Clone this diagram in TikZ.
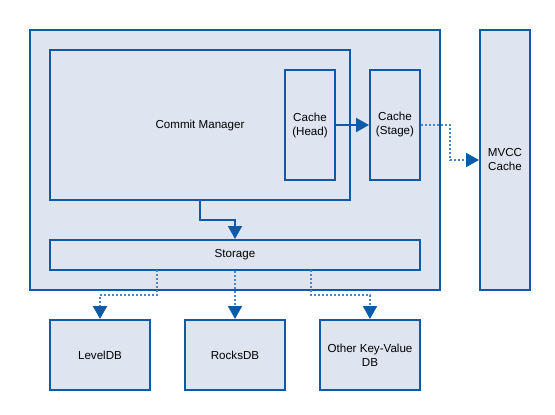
\documentclass[tikz,border=0pt]{standalone}
\usepackage{fontspec}
\setmainfont{Liberation Sans}
\usetikzlibrary{arrows.meta}
\definecolor{bstroke}{HTML}{0E5AA7}
\definecolor{bfill}{HTML}{DEE5F0}
\definecolor{dotc}{HTML}{4A86C5}
\begin{document}
\begin{tikzpicture}[x=1pt,y=-1pt,
  box/.style={draw=bstroke,fill=bfill,line width=2pt,align=center,inner sep=0pt,
    font=\fontsize{11.6}{14}\selectfont},
  solidarrow/.style={draw=bstroke,line width=2pt,-{Triangle[width=14pt,length=13pt]}},
  dotarrow/.style={draw=dotc,line width=2pt,dash pattern=on 2pt off 2pt,
    -{Triangle[width=14pt,length=13pt,fill=bstroke,color=bstroke]}}]
\useasboundingbox (0,0) rectangle (555,415);
\node[box,minimum width=410pt,minimum height=260pt] (outer) at (235,160) {};
\node[box,minimum width=300pt,minimum height=150pt] (cm) at (200,125) {Commit Manager};
\node[box,minimum width=50pt,minimum height=110pt] (head) at (310,125) {Cache\\(Head)};
\node[box,minimum width=50pt,minimum height=110pt] (stage) at (395,125) {Cache\\(Stage)};
\node[box,minimum width=50pt,minimum height=260pt] (mvcc) at (505,160) {MVCC\\Cache};
\node[box,minimum width=370pt,minimum height=30pt] (storage) at (235,255) {Storage};
\node[box,minimum width=100pt,minimum height=70pt] (level) at (100,355) {LevelDB};
\node[box,minimum width=100pt,minimum height=70pt] (rocks) at (235,355) {RocksDB};
\node[box,minimum width=100pt,minimum height=70pt] (other) at (370,355) {Other Key-Value\\DB};
\coordinate (s1) at (157,270);
\coordinate (s3) at (311,270);
\draw[solidarrow] (200,200) |- (235,220) -- (storage.north);
\draw[solidarrow] (head.east) -- (stage.west);
\draw[dotarrow] (stage.east) -- (450,125) |- (mvcc.west|-0,160);
\draw[dotarrow] (s1) |- (100,295) -- (level.north);
\draw[dotarrow] (storage.south) -- (rocks.north);
\draw[dotarrow] (s3) |- (370,295) -- (other.north);
\end{tikzpicture}
\end{document}
